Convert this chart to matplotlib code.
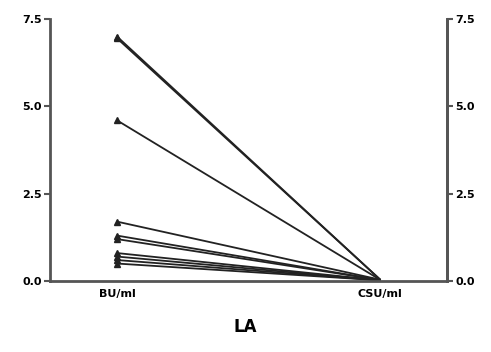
import matplotlib
matplotlib.use("Agg")
from matplotlib import pyplot as plt

groups = ["BU/ml", "CSU/ml"]
bu = [7.0, 6.95, 4.6, 1.7, 1.3, 1.2, 0.8, 0.7, 0.6, 0.5]
csu = [0.05, 0.05, 0.04, 0.04, 0.03, 0.03, 0.02, 0.02, 0.02, 0.02]

plt.rcParams['font.family'] = ['DejaVu Sans']

fig = plt.figure(figsize=(4.91, 3.52), dpi=100)
ax = fig.add_axes([0.102, 0.2017, 0.808, 0.744])

for b, c in zip(bu, csu):
    ax.plot([0, 1], [b, c], color="#222222", linewidth=1.3,
            marker="^", markersize=4, markevery=[0])

ax.set_xlim(-0.255, 1.255)
ax.set_ylim(0, 7.5)
ax.set_yticks([0, 2.5, 5.0, 7.5])
ax.set_yticklabels(["0.0", "2.5", "5.0", "7.5"], fontsize=8, fontweight="bold")
ax.set_xticks([0, 1])
ax.set_xticklabels(groups, fontsize=8, fontweight="bold")
ax.tick_params(axis="x", length=0, pad=6)
ax.tick_params(axis="y", length=4, width=1.5, color="#555555", pad=2)

ax.spines["top"].set_visible(False)
for s in ["left", "right", "bottom"]:
    ax.spines[s].set_linewidth(2)
    ax.spines[s].set_color("#555555")

ax2 = ax.twinx()
ax2.set_ylim(0, 7.5)
ax2.set_yticks([0, 2.5, 5.0, 7.5])
ax2.set_yticklabels(["0.0", "2.5", "5.0", "7.5"], fontsize=8, fontweight="bold")
ax2.tick_params(axis="y", length=4, width=1.5, color="#555555", pad=2)
for s in ["top", "left", "bottom"]:
    ax2.spines[s].set_visible(False)
ax2.spines["right"].set_linewidth(2)
ax2.spines["right"].set_color("#555555")

fig.text(0.5, 0.07, "LA", ha="center", va="center", fontsize=12, fontweight="bold")

fig.savefig("out.png", dpi=100)
